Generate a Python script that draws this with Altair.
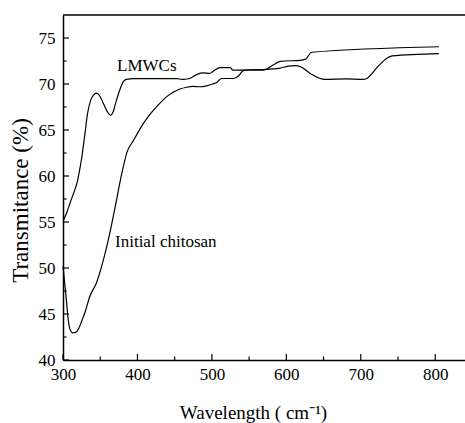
import altair as alt
import pandas as pd

# ---- data ----
lmwc_wavelength = [300, 305, 310, 315, 319, 322, 325, 329, 333, 337, 341, 345, 349, 353, 357,
                   361, 364, 367, 371, 376, 381, 385, 395, 453, 460, 470, 480, 489, 497, 502,
                   511, 525, 528, 547, 569, 580, 592, 621, 626, 634, 805]
lmwc_transmittance = [55.1, 56.0, 57.2, 58.3, 59.3, 60.5, 61.9, 64.3, 66.8, 68.2, 68.8, 69.0, 68.75, 68.1, 67.4,
                      66.8, 66.6, 66.9, 68.0, 69.3, 70.25, 70.5, 70.58, 70.58, 70.5, 70.6, 71.05, 71.2, 71.15, 71.4,
                      71.78, 71.78, 71.5, 71.5, 71.5, 71.95, 72.45, 72.6, 72.7, 73.45, 74.05]

chitosan_wavelength = [300, 304, 307, 310, 313, 317, 321, 325, 330, 336, 345, 352, 361, 370, 378,
                       386, 395, 404, 414, 421, 430, 439, 448, 457, 466, 475, 484, 493, 501, 507,
                       513, 529, 536, 542, 550, 575, 590, 603, 612, 620, 632, 652, 680, 703,
                       708, 722, 735, 742, 805]
chitosan_transmittance = [50.2, 47.0, 44.4, 43.2, 42.95, 43.0, 43.4, 44.2, 45.3, 46.9, 48.4, 50.2, 53.1, 56.6, 59.9,
                          62.6, 63.9, 65.2, 66.4, 67.1, 67.9, 68.6, 69.1, 69.45, 69.65, 69.75, 69.7, 69.8, 70.0, 70.2,
                          70.6, 70.6, 70.9, 71.45, 71.55, 71.6, 71.7, 71.95, 72.0, 71.85, 71.15, 70.5, 70.55, 70.5,
                          70.6, 71.8, 72.8, 73.05, 73.3]

x_major_ticks = [300, 400, 500, 600, 700, 800]
x_minor_ticks = [350, 450, 550, 650, 750]
y_major_ticks = [40, 45, 50, 55, 60, 65, 70, 75]
y_minor_ticks = [42.5, 47.5, 52.5, 57.5, 62.5, 67.5, 72.5]

label_text = ["LMWCs", "Initial chitosan"]
label_x = [372.6, 369.9]
label_y = [71.45, 52.3]

FONT = "Liberation Serif"
W, H = 402, 345

xs = alt.Scale(domain=[300, 840], nice=False, zero=False)
ys = alt.Scale(domain=[40, 77.5], nice=False, zero=False)

df_l = pd.DataFrame({"w": lmwc_wavelength, "t": lmwc_transmittance})
df_c = pd.DataFrame({"w": chitosan_wavelength, "t": chitosan_transmittance})

x_axis = alt.Axis(values=x_major_ticks, ticks=False, grid=False, domain=True,
                  domainColor="black", domainWidth=1.5,
                  labelFont=FONT, labelFontSize=17, labelColor="black", labelPadding=6,
                  labelFlush=False, labelOverlap=False,
                  title="Wavelength ( cm⁻¹)", titleFont=FONT, titleFontSize=19,
                  titleFontWeight="normal", titleColor="black",
                  titleX=190, titleY=58, titleAlign="center", titleBaseline="alphabetic")
y_axis = alt.Axis(values=y_major_ticks, ticks=False, grid=False, domain=True,
                  domainColor="black", domainWidth=1.5,
                  labelFont=FONT, labelFontSize=17, labelColor="black", labelPadding=8,
                  labelFlush=False, labelOverlap=False,
                  title="Transmitance (%)", titleFont=FONT, titleFontSize=23,
                  titleFontWeight="normal", titleColor="black", titleAngle=270,
                  titleX=-36, titleY=185, titleAlign="center", titleBaseline="alphabetic")

line_l = alt.Chart(df_l).mark_line(color="black", strokeWidth=1.2, interpolate="monotone").encode(
    x=alt.X("w:Q", scale=xs, axis=x_axis),
    y=alt.Y("t:Q", scale=ys, axis=y_axis),
)
line_c = alt.Chart(df_c).mark_line(color="black", strokeWidth=1.2, interpolate="monotone").encode(
    x=alt.X("w:Q", scale=xs),
    y=alt.Y("t:Q", scale=ys),
)

def xticks(vals, length):
    return alt.Chart(pd.DataFrame({"v": vals})).mark_rule(
        color="black", strokeWidth=1.2, y2Offset=-length
    ).encode(
        x=alt.X("v:Q", scale=xs),
        y=alt.YDatum(40),
        y2=alt.Y2Datum(40),
    )

def yticks(vals, length):
    return alt.Chart(pd.DataFrame({"v": vals})).mark_rule(
        color="black", strokeWidth=1.2, x2Offset=length
    ).encode(
        y=alt.Y("v:Q", scale=ys),
        x=alt.XDatum(300),
        x2=alt.X2Datum(300),
    )

top_frame = alt.Chart(pd.DataFrame({"a": [0]})).mark_rule(color="black", strokeWidth=1.5).encode(
    x=alt.value(0), x2=alt.value(W), y=alt.value(0)
)

labels = alt.Chart(pd.DataFrame({"x": label_x, "y": label_y, "label": label_text})).mark_text(
    align="left", baseline="alphabetic", font=FONT, fontSize=17, color="black"
).encode(
    x=alt.X("x:Q", scale=xs),
    y=alt.Y("y:Q", scale=ys),
    text="label:N",
)

chart = alt.layer(
    line_l, line_c,
    xticks(x_major_ticks, 6), xticks(x_minor_ticks, 3.5),
    yticks(y_major_ticks, 6), yticks(y_minor_ticks, 3.5),
    top_frame, labels,
).properties(
    width=W, height=H,
    padding={"left": 63, "top": 15, "right": 0, "bottom": 63},
    autosize=alt.AutoSizeParams(type="none"),
    background="white",
).configure_view(stroke=None)

chart.save("out.html", embed_options={"renderer": "svg", "actions": False})
